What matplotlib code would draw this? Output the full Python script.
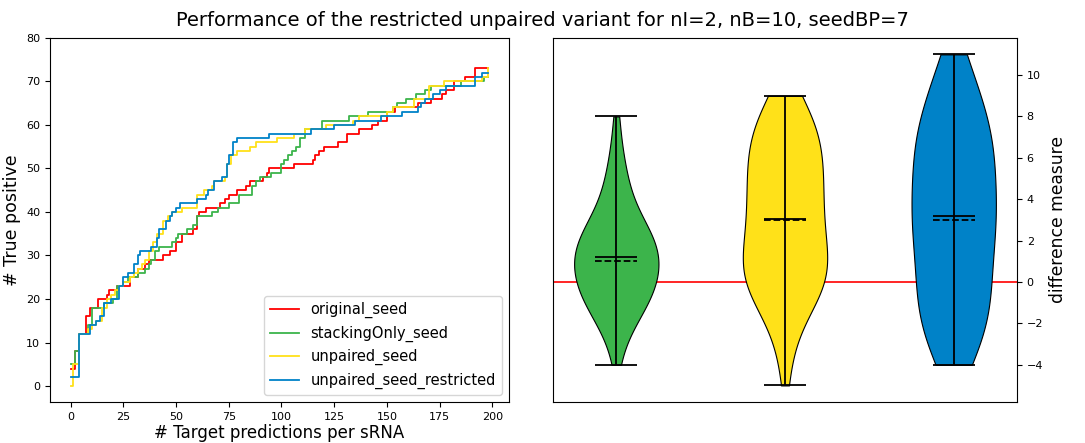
import numpy as np
import matplotlib
matplotlib.use("Agg")
import matplotlib.pyplot as plt

# cumulative true positives (step breakpoints: x where value changes, new value)
orig_x = [0, 2, 4, 7, 9, 13, 17, 18, 22, 28, 32, 35, 37, 44, 47, 50, 53, 58, 60, 61, 64, 71, 73, 75, 79, 83, 85, 91, 93, 94,
          106, 115, 116, 118, 120, 127, 131, 137, 143, 146, 150, 154, 165, 171, 176, 178, 182, 187, 192, 198]
orig_y = [4, 8, 12, 16, 18, 20, 21, 22, 23, 25, 27, 28, 29, 30, 31, 33, 35, 36, 39, 40, 41, 42, 43, 44, 45, 46, 47, 48, 49, 50,
          51, 52, 53, 54, 55, 56, 58, 59, 60, 61, 63, 64, 65, 66, 67, 68, 70, 71, 73, 73]

stack_x = [0, 2, 4, 8, 10, 16, 20, 22, 25, 27, 32, 35, 37, 38, 40, 42, 48, 50, 51, 55, 58, 60, 67, 70, 75, 80, 86, 88, 90, 95,
           100, 101, 103, 105, 107, 109, 111, 119, 132, 141, 153, 155, 159, 164, 168, 171, 185, 196, 198]
stack_y = [5, 8, 12, 14, 18, 19, 20, 23, 24, 25, 26, 27, 28, 29, 31, 32, 33, 34, 35, 36, 37, 39, 40, 41, 42, 44, 46, 47, 48, 49,
           51, 52, 53, 54, 55, 57, 59, 61, 62, 63, 64, 65, 66, 67, 68, 69, 70, 71, 71]

unp_x = [0, 1, 4, 8, 10, 12, 15, 17, 19, 21, 23, 25, 28, 30, 32, 34, 35, 37, 39, 41, 44, 46, 48, 53, 60, 63, 67, 68, 73, 74,
         76, 79, 85, 88, 98, 106, 111, 121, 134, 137, 150, 153, 163, 170, 177, 195, 198]
unp_y = [0, 5, 12, 13, 14, 15, 18, 20, 21, 22, 23, 24, 25, 26, 27, 28, 29, 31, 33, 35, 38, 39, 40, 41, 44, 45, 46, 47, 48, 51,
         53, 54, 55, 56, 57, 58, 59, 60, 61, 62, 63, 64, 66, 69, 70, 71, 73]

restr_x = [0, 4, 9, 12, 14, 16, 19, 23, 25, 27, 30, 32, 33, 38, 41, 42, 45, 47, 48, 50, 52, 60, 64, 65, 68, 72, 74, 75, 77, 79,
           94, 114, 125, 135, 147, 157, 165, 166, 168, 172, 175, 178, 192, 195, 198]
restr_y = [2, 12, 14, 15, 16, 19, 20, 23, 25, 26, 28, 30, 31, 32, 34, 36, 38, 39, 40, 41, 42, 43, 44, 45, 47, 48, 51, 53, 56, 57,
           58, 59, 60, 61, 62, 63, 64, 65, 66, 67, 68, 69, 71, 72, 72]

labels = ["original_seed", "stackingOnly_seed", "unpaired_seed", "unpaired_seed_restricted"]
colors = ["#ff0000", "#3cb44b", "#ffe119", "#0082c8"]

# difference measure: counts per integer value
green_vals = list(range(-4, 9))
green_cnt = [1, 2, 5, 9, 11, 12, 11, 7, 4, 3, 2, 1, 1]
yellow_vals = list(range(-5, 10))
yellow_cnt = [1, 1, 2, 3, 7, 10, 10, 8, 8, 8, 8, 8, 8, 6, 4]
blue_vals = list(range(-4, 12))
blue_cnt = [5, 5, 7, 8, 7, 7, 8, 9, 8, 8, 8, 8, 7, 5, 4, 3]

diffs = [np.repeat(green_vals, green_cnt), np.repeat(yellow_vals, yellow_cnt), np.repeat(blue_vals, blue_cnt)]

fig = plt.figure(figsize=(10.85, 4.43), dpi=100)
ax1 = fig.add_axes([0.046, 0.0926, 0.423, 0.822])
ax2 = fig.add_axes([0.5097, 0.0926, 0.4276, 0.822])

series = [(orig_x, orig_y), (stack_x, stack_y), (unp_x, unp_y), (restr_x, restr_y)]
for (xs, ys), c, lab in zip(series, colors, labels):
    ax1.step(xs, ys, where="post", color=c, lw=1.3, label=lab)
ax1.set_ylim(top=80)
ax1.set_xticks(np.arange(0, 201, 25))
ax1.set_yticks(np.arange(0, 81, 10))
ax1.tick_params(labelsize=8)
ax1.set_xlabel("# Target predictions per sRNA", fontsize=12, labelpad=2)
ax1.set_ylabel("# True positive", fontsize=12.5)
ax1.legend(loc="lower right", fontsize=10.5, handlelength=2.0, handletextpad=0.8,
           labelspacing=0.5, borderaxespad=0.5)

# violins
ax2.axhline(0, color="red", lw=1.2, zorder=0)
vp = ax2.violinplot(diffs, positions=[1, 2, 3], showmeans=True, showmedians=True, showextrema=True)
for body, c in zip(vp["bodies"], colors[1:]):
    body.set_facecolor(c)
    body.set_edgecolor("black")
    body.set_linewidth(0.8)
    body.set_alpha(1)
for key in ["cbars", "cmins", "cmaxes", "cmeans"]:
    vp[key].set_color("black")
    vp[key].set_linewidth(1.3)
vp["cmedians"].set_color("black")
vp["cmedians"].set_linestyle("--")
vp["cmedians"].set_linewidth(1.3)
ax2.set_xticks([])
ax2.yaxis.tick_right()
ax2.yaxis.set_label_position("right")
ax2.tick_params(labelsize=8)
ax2.set_ylabel("difference measure", fontsize=12.3)

fig.suptitle("Performance of the restricted unpaired variant for nI=2, nB=10, seedBP=7", fontsize=14, y=0.975)

fig.savefig("out.png", dpi=100)
